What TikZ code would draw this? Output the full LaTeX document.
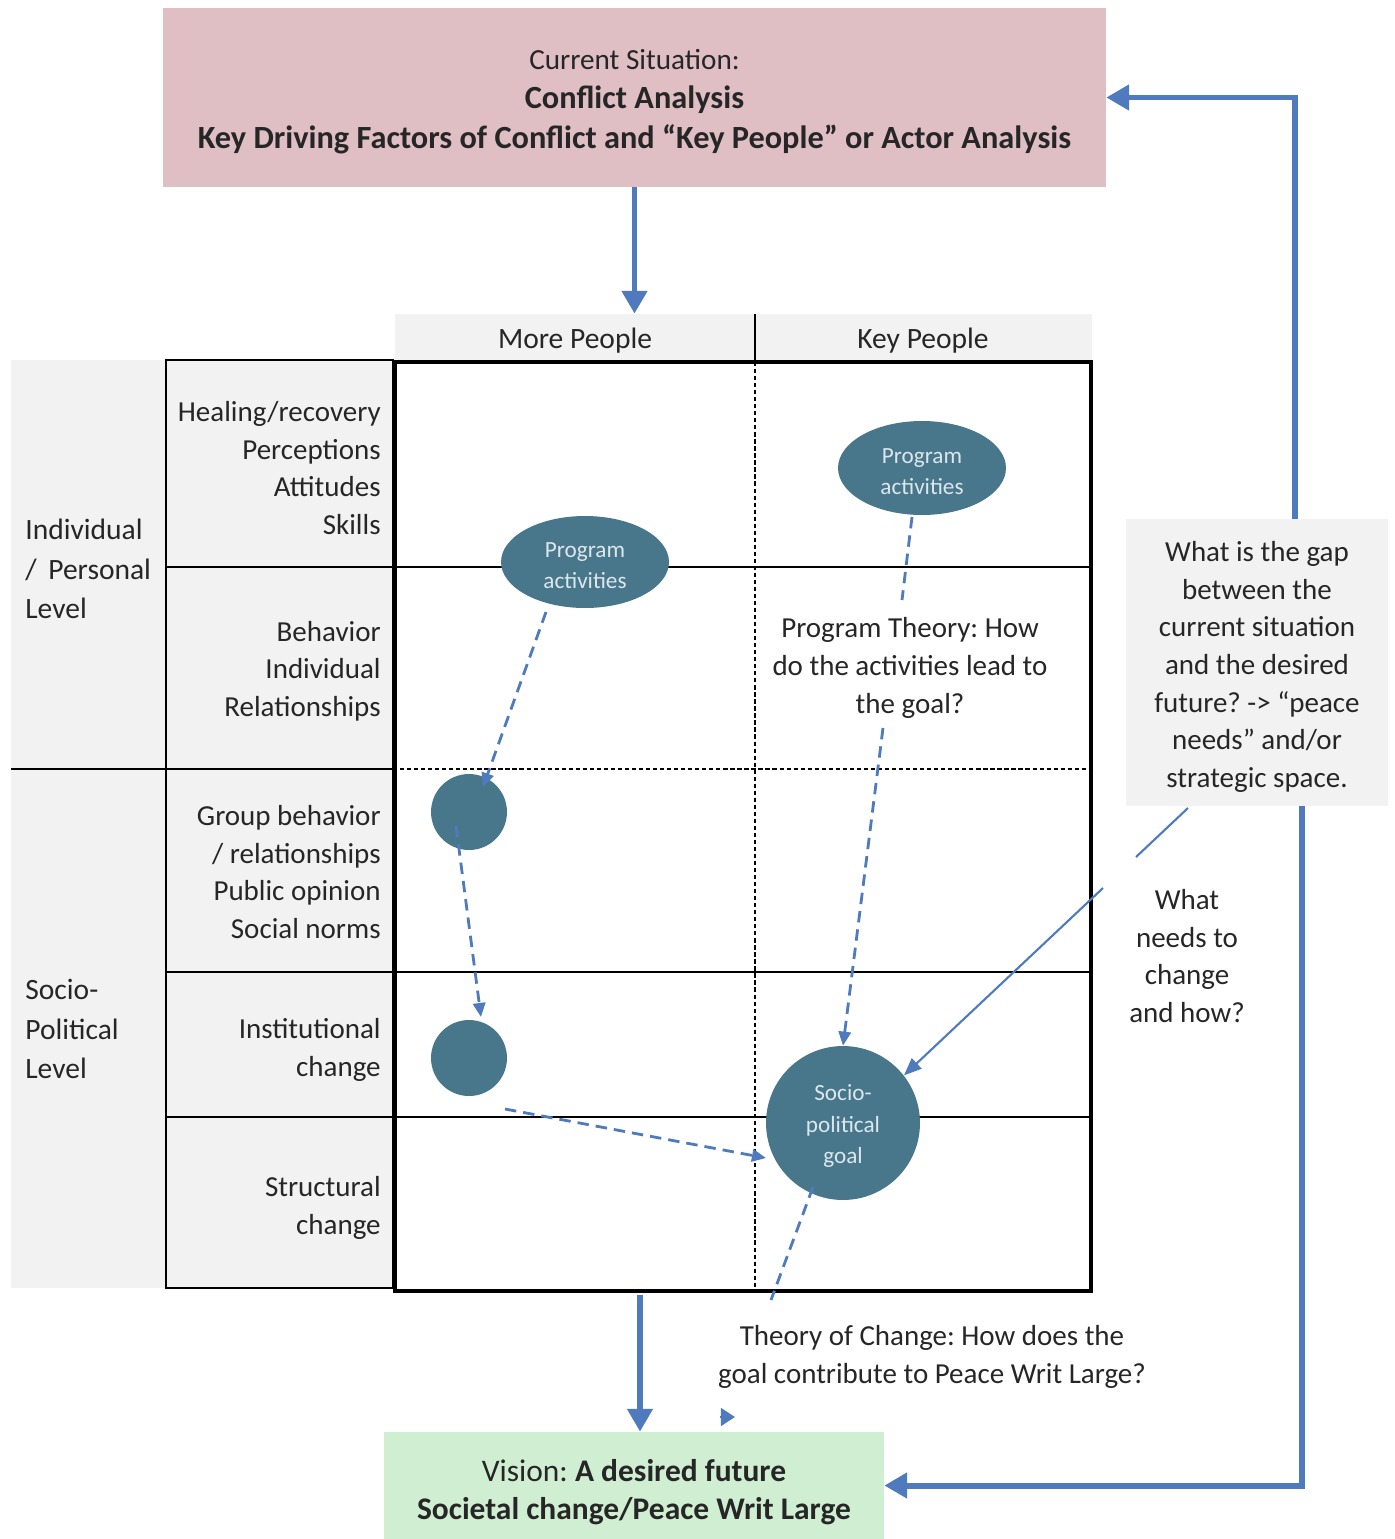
\documentclass[tikz,border=0pt]{standalone}
\usepackage{fontspec}
\setmainfont{Carlito}
\usetikzlibrary{arrows.meta}
\usetikzlibrary{shapes.geometric}
\definecolor{titlePink}{HTML}{DFBEC4}
\definecolor{visionGreen}{HTML}{D0EED2}
\definecolor{paleGrey}{HTML}{F2F2F2}
\definecolor{arrowBlue}{HTML}{4F7BBE}
\definecolor{dotTeal}{HTML}{48778C}
\definecolor{dotText}{HTML}{DCE7EC}
\definecolor{inkGrey}{HTML}{262626}
\frenchspacing
\newcommand{\rowFont}{\fontsize{16.5}{21.4}\selectfont}
\newcommand{\dotFont}{\fontsize{13.2}{18.1}\selectfont}
\newcommand{\levelGrid}{%%
  %% Thin solid rows of the grid.
  \draw[gridLine] (395,567) -- (1091,567);
  \draw[gridLine] (395,972) -- (1091,972);
  \draw[gridLine] (395,1117) -- (1091,1117);
  %% Dotted split between the two levels and the two columns.
  \draw[dotLine] (400,769) -- (1091,769);
  \draw[dotLine] (755,362) -- (755,1291);
  %% The outer frame.
  \draw[line width=2.8pt] (gridNW) rectangle (gridSE);
}

\begin{document}
\begin{tikzpicture}[%%
  x=0.02cm,y=-0.02cm,%%
  every node/.style={text=inkGrey},%%
  gridLine/.style={-,line width=1.1pt},%%
  dotLine/.style={-,line width=1.1pt,dash pattern=on 2.4pt off 1.6pt},%%
  bigArrow/.style={-{Triangle[length=13pt,width=14pt]},line width=3.4pt,arrowBlue},%%
  blueDash/.style={-{Triangle[length=8pt,width=7pt]},line width=1.6pt,arrowBlue,dash pattern=on 6.5pt off 4pt},%%
  blueLine/.style={line width=1.2pt,arrowBlue},%%
  rowLabel/.style={anchor=east,align=right,font=\rowFont,inner sep=0pt},%%
  levelLabel/.style={anchor=west,align=left,font=\fontsize{16.8}{22.4}\selectfont,inner sep=0pt},%%
  noteText/.style={align=center,font=\rowFont,inner sep=0pt},%%
  dotShape/.style={circle,fill=dotTeal,inner sep=0pt,text=dotText,align=center,font=\dotFont},%%
]
\useasboundingbox (0,0) rectangle (1394,1539);
%%
%% Corners of the grid.
\coordinate (gridNW) at (395,362);
\coordinate (gridSE) at (1091,1291);
%%
%% The current situation and the vision.
\node[fill=titlePink,minimum width=18.86cm,minimum height=3.58cm,inner sep=0pt] (title) at (634.5,97.5) {};
\node[align=center,font=\fontsize{16.6}{22.6}\selectfont] (titleText) at (634.5,101.5)
  {Current Situation:\\ {\fontsize{18.4}{22.6}\selectfont\bfseries Conflict Analysis}\\ {\fontsize{18.4}{22.6}\selectfont\bfseries Key Driving Factors of Conflict and “Key People” or Actor Analysis}};
\node[fill=visionGreen,minimum width=10cm,minimum height=2.14cm,inner sep=0pt] (vision) at (634,1485.5) {};
\node[align=center,font=\fontsize{17.9}{21.8}\selectfont] (visionText) at (634,1492)
  {Vision: \textbf{A desired future}\\ \textbf{Societal change/Peace Writ Large}};
%%
%% The two level columns on the left.
\fill[paleGrey] (11,360) rectangle (165,1288);
\draw[gridLine,fill=paleGrey] (166,360) rectangle (393,1288);
\draw[gridLine] (166,567) -- (393,567);
\draw[gridLine] (11,769) -- (393,769);
\draw[gridLine] (166,972) -- (393,972);
\draw[gridLine] (166,1117) -- (393,1117);
\node[levelLabel] (indLevel) at (25,569) {Individual\\ /\, Personal\\ Level};
\node[levelLabel] (socLevel) at (25,1029) {Socio-\\ Political\\ Level};
\node[rowLabel] (rowHeal) at (381,468) {Healing/recovery\\ Perceptions\\ Attitudes\\ Skills};
\node[rowLabel] (rowBehav) at (381,671) {Behavior\\ Individual\\ Relationships};
\node[rowLabel] (rowGroup) at (381,872) {Group behavior\\ / relationships\\ Public opinion\\ Social norms};
\node[rowLabel] (rowInst) at (381,1050) {Institutional\\ change};
\node[rowLabel] (rowStruct) at (381,1208) {Structural\\ change};
%%
%% The column header.
\node[fill=paleGrey,minimum width=13.94cm,minimum height=0.92cm,inner sep=0pt] (header) at (743.5,337) {};
\draw[gridLine] (755,314) -- (755,362);
\node[font=\fontsize{16.8}{21}\selectfont] (headMore) at (575,341) {More People};
\node[font=\fontsize{16.8}{21}\selectfont] (headKey) at (923,341) {Key People};
%%
%% The grid itself.
\fill[white] (gridNW) rectangle (gridSE);
\levelGrid
%%
%% The gap box and the notes.
\node[fill=paleGrey,minimum width=5.24cm,minimum height=5.74cm,inner sep=0pt] (gapBox) at (1257,662.5) {};
\node[noteText] (gapText) at (1257,667)
  {What is the gap\\ between the\\ current situation\\ and the desired\\ future? -> “peace\\ needs” and/or\\ strategic space.};
\node[noteText] (needsText) at (1187,956) {What\\ needs to\\ change\\ and how?};
\node[noteText] (progTheory) at (910,668) {Program Theory: How\\ do the activities lead to\\ the goal?};
\node[noteText] (tocText) at (932,1357) {Theory of Change: How does the\\ goal contribute to Peace Writ Large?};
%%
%% Activities, steps and the goal.
\node[dotShape,ellipse,minimum width=3.36cm,minimum height=1.84cm] (actMore) at (585,562) {\strut Program\\ activities};
\node[dotShape,ellipse,minimum width=3.36cm,minimum height=1.88cm] (actKey) at (922,468) {\strut Program\\ activities};
\node[dotShape,minimum size=1.52cm] (stepGroup) at (469,812) {};
\node[dotShape,minimum size=1.52cm] (stepInst) at (469,1058) {};
\node[dotShape,minimum size=3.08cm] (goal) at (843,1123) {\strut Socio-\\ political\\ goal};
%%
%% Free ends of the connectors.
\coordinate (tailGroup) at (546,612);
\coordinate (tipGroup) at (483,787);
\coordinate (tailInst) at (456,826);
\coordinate (tipInst) at (481,1017);
\coordinate (tailGoal) at (505,1109);
\coordinate (tipGoal) at (766,1158);
\coordinate (tailTheory) at (912,517);
\coordinate (headTheory) at (902,600);
\coordinate (tailDown) at (883,728);
\coordinate (tailPeace) at (813,1187);
\coordinate (headPeace) at (771,1300);
\coordinate (tipVision) at (735,1417);
\coordinate (tailVision) at (720,1417);
\coordinate (gridFoot) at (640,1295);
\coordinate (gapFoot) at (1188,808);
\coordinate (gapBreak) at (1136,857);
\coordinate (needsStart) at (1103,888);
%%
%% The big feedback arrows.
\draw[bigArrow] (title.south) -- (title.south |- header.north);
\draw[bigArrow] (gridFoot) -- (gridFoot |- vision.north);
\draw[bigArrow] ([xshift=0.76cm]gapBox.north) |- (title.east);
\draw[bigArrow] ([xshift=0.9cm]gapBox.south) |- (vision.east);
%%
%% The dashed pathway of change.
\draw[blueDash] (tailGroup) -- (tipGroup);
\draw[blueDash] (tailInst) -- (tipInst);
\draw[blueDash] (tailGoal) -- (tipGoal);
\draw[blueDash,-] (tailTheory) -- (headTheory);
\draw[blueDash] (tailDown) -- (goal.north);
\draw[blueDash,-] (tailPeace) -- (headPeace);
\draw[blueDash,-{Triangle[length=8pt,width=10pt]},solid] (tailVision) -- (tipVision);
%%
%% What needs to change.
\draw[blueLine] (gapFoot) -- (gapBreak);
\draw[blueLine,-{Triangle[length=10pt,width=8pt]}] (needsStart) -- (goal.38);
\end{tikzpicture}
\end{document}
